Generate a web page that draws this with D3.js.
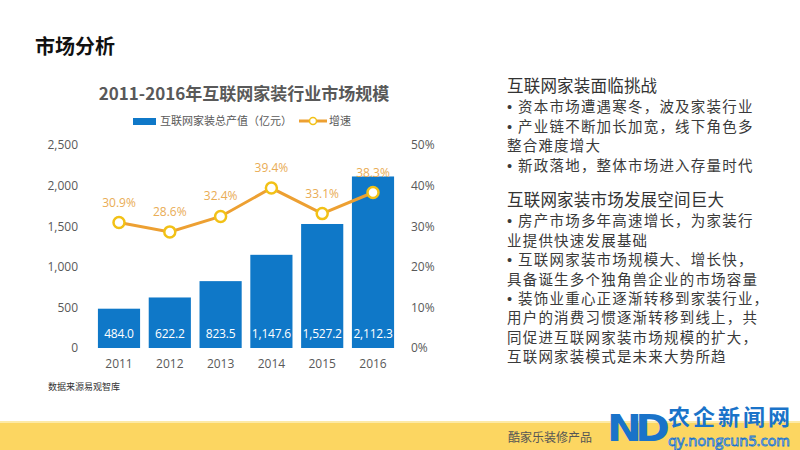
<!DOCTYPE html>
<html>
<head>
<meta charset="utf-8">
<script src="https://cdn.jsdelivr.net/npm/d3@7"></script>
<style>
  body { margin: 0; background: #fff; }
  svg { display: block; }
</style>
</head>
<body>
<div id="chart"></div>
<script>
var years = ["2011", "2012", "2013", "2014", "2015", "2016"];
var output = [484.0, 622.2, 823.5, 1147.6, 1527.2, 2112.3];
var growth = [30.9, 28.6, 32.4, 39.4, 33.1, 38.3];
var leftTicks = [0, 500, 1000, 1500, 2000, 2500];
var rightTicks = [0, 10, 20, 30, 40, 50];

var section1 = ["互联网家装面临挑战",
  "• 资本市场遭遇寒冬，波及家装行业",
  "• 产业链不断加长加宽，线下角色多",
  "整合难度增大",
  "• 新政落地，整体市场进入存量时代"];
var section2 = ["互联网家装市场发展空间巨大",
  "• 房产市场多年高速增长，为家装行",
  "业提供快速发展基础",
  "• 互联网家装市场规模大、增长快，",
  "具备诞生多个独角兽企业的市场容量",
  "• 装饰业重心正逐渐转移到家装行业，",
  "用户的消费习惯逐渐转移到线上，共",
  "同促进互联网家装市场规模的扩大，",
  "互联网家装模式是未来大势所趋"];

var w = 800, h = 450;
var cjk = "'Noto Sans CJK SC', 'Noto Sans', sans-serif";
var num = "'Open Sans', 'Noto Sans CJK SC', sans-serif";
var barColor = "#0f78c8", lineColor = "#eda032", dotColor = "#f2c116", growthText = "#e9ac55", axisText = "#595959";

var svg = d3.select("#chart").append("svg").attr("width", w).attr("height", h);

// page title
svg.append("text").attr("x", 35).attr("y", 54).attr("font-family", cjk).attr("font-weight", "bold")
  .attr("font-size", 20).attr("fill", "#111").text("市场分析");

// bottom band
svg.append("rect").attr("x", 0).attr("y", 422).attr("width", w).attr("height", 28).attr("fill", "#fcd661");
svg.append("rect").attr("x", 0).attr("y", 421).attr("width", w).attr("height", 2).attr("fill", "#fdeaa6");
svg.append("text").attr("x", 508).attr("y", 442).attr("font-family", cjk).attr("font-size", 12)
  .attr("fill", "#555").text("酷家乐装修产品");

// chart title
svg.append("text").attr("x", 244).attr("y", 100).attr("text-anchor", "middle").attr("font-family", cjk)
  .attr("font-weight", "bold").attr("font-size", 17).attr("fill", "#595959").text("2011-2016年互联网家装行业市场规模");

// legend
var lg = svg.append("g");
lg.append("rect").attr("x", 133).attr("y", 118).attr("width", 23).attr("height", 7).attr("fill", barColor);
lg.append("text").attr("x", 160).attr("y", 125).attr("font-family", cjk).attr("font-size", 11)
  .attr("fill", axisText).text("互联网家装总产值（亿元）");
lg.append("line").attr("x1", 299).attr("x2", 327).attr("y1", 121).attr("y2", 121)
  .attr("stroke", lineColor).attr("stroke-width", 3);
lg.append("circle").attr("cx", 313).attr("cy", 121).attr("r", 3.5).attr("fill", "#fff")
  .attr("stroke", dotColor).attr("stroke-width", 1.5);
lg.append("text").attr("x", 329).attr("y", 125).attr("font-family", cjk).attr("font-size", 11)
  .attr("fill", axisText).text("增速");

// scales
var x = d3.scaleBand().domain(years).range([93.6, 398.4]).paddingInner(0.17).paddingOuter(0.085);
var yL = d3.scaleLinear().domain([0, 2500]).range([348, 145]);
var yR = d3.scaleLinear().domain([0, 50]).range([348, 145]);

var axL = svg.append("g").attr("transform", "translate(78,0)")
  .call(d3.axisLeft(yL).tickValues(leftTicks).tickFormat(d3.format(",")).tickSize(0).tickPadding(0));
var axR = svg.append("g").attr("transform", "translate(411,0)")
  .call(d3.axisRight(yR).tickValues(rightTicks).tickFormat(function(d) { return d + "%"; }).tickSize(0).tickPadding(0));
var axX = svg.append("g").attr("transform", "translate(0,356)")
  .call(d3.axisBottom(x).tickSize(0).tickPadding(0));
[axL, axR, axX].forEach(function(a) {
  a.select(".domain").remove();
  a.selectAll("text").attr("font-family", num).attr("font-size", 12).attr("fill", axisText);
});
axX.selectAll("text").attr("dy", "1em");

// bars
svg.selectAll(".bar").data(output).enter().append("rect").attr("class", "bar")
  .attr("x", function(d, i) { return x(years[i]); })
  .attr("y", function(d) { return yL(d); })
  .attr("width", x.bandwidth())
  .attr("height", function(d) { return yL(0) - yL(d); })
  .attr("fill", barColor);

svg.selectAll(".val").data(output).enter().append("text").attr("class", "val")
  .attr("x", function(d, i) { return x(years[i]) + x.bandwidth() / 2; })
  .attr("y", 338).attr("text-anchor", "middle").attr("font-family", num).attr("font-size", 12)
  .attr("letter-spacing", -0.2).attr("fill", "#fff").text(function(d) { return d3.format(",.1f")(d); });

// growth line
var cx = function(d, i) { return x(years[i]) + x.bandwidth() / 2; };
var line = d3.line().x(cx).y(function(d) { return yR(d); });
svg.append("path").datum(growth).attr("d", line).attr("fill", "none")
  .attr("stroke", lineColor).attr("stroke-width", 3);
svg.selectAll(".dot").data(growth).enter().append("circle").attr("class", "dot")
  .attr("cx", cx).attr("cy", function(d) { return yR(d); }).attr("r", 5.5)
  .attr("fill", "#fff").attr("stroke", dotColor).attr("stroke-width", 2.5);
svg.selectAll(".gl").data(growth).enter().append("text").attr("class", "gl")
  .attr("x", cx).attr("y", function(d) { return yR(d) - 16; }).attr("text-anchor", "middle")
  .attr("font-family", num).attr("font-size", 12).attr("fill", growthText)
  .text(function(d) { return d.toFixed(1) + "%"; });

// source
svg.append("text").attr("x", 48).attr("y", 390).attr("font-family", cjk).attr("font-size", 9)
  .attr("fill", "#333").text("数据来源易观智库");

// right side text
function block(lines, y0) {
  lines.forEach(function(t, i) {
    var tx = svg.append("text").attr("x", 507).attr("y", y0 + (i === 0 ? -1 : i * 19.4))
      .attr("font-family", cjk).attr("font-size", i === 0 ? 16.5 : 14.5)
      .attr("letter-spacing", i === 0 ? 0.2 : 1.2)
      .attr("fill", i === 0 ? "#333" : "#3a3a3a");
    if (t.indexOf("• ") === 0) {
      tx.append("tspan").attr("font-family", "'Liberation Sans', sans-serif").attr("letter-spacing", 0).text("•");
      tx.append("tspan").attr("dx", 6).text(t.slice(2));
    } else {
      tx.text(t);
    }
  });
}
block(section1, 93);
block(section2, 207);

// site watermark
var wm = svg.append("g");
wm.append("text").attr("x", 607).attr("y", 441).attr("font-family", "'DejaVu Sans', sans-serif")
  .attr("font-weight", "bold").attr("font-size", 37).attr("fill", "#1a73c9").attr("letter-spacing", -6)
  .attr("textLength", 56).attr("lengthAdjust", "spacingAndGlyphs").text("ND");
wm.append("text").attr("x", 668).attr("y", 425).attr("font-family", cjk).attr("font-weight", "bold")
  .attr("font-size", 22).attr("fill", "#1a73c9").attr("textLength", 122).text("农企新闻网");
wm.append("text").attr("x", 668).attr("y", 446).attr("font-family", num)
  .attr("font-size", 14).attr("fill", "#ffffff").attr("stroke", "#1a73c9").attr("stroke-width", 0.8)
  .attr("textLength", 122).attr("lengthAdjust", "spacingAndGlyphs").text("qy.nongcun5.com");
</script>
</body>
</html>
